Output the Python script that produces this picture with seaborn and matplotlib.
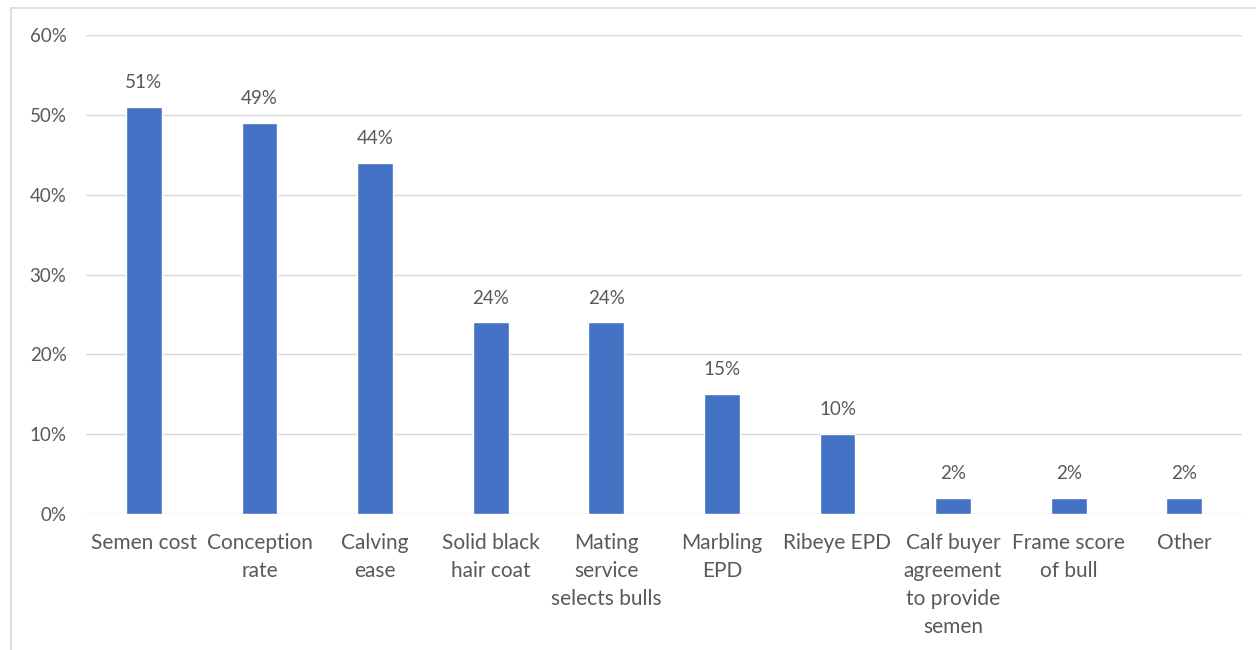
import matplotlib
matplotlib.use("Agg")
import matplotlib.pyplot as plt
from matplotlib.patches import Rectangle
from matplotlib.ticker import MultipleLocator, FuncFormatter
import seaborn as sns
import pandas as pd

categories = [
    "Semen cost", "Conception\nrate", "Calving\nease", "Solid black\nhair coat",
    "Mating\nservice\nselects bulls", "Marbling\nEPD", "Ribeye EPD",
    "Calf buyer\nagreement\nto provide\nsemen", "Frame score\nof bull", "Other",
]
values = [51, 49, 44, 24, 24, 15, 10, 2, 2, 2]

df = pd.DataFrame({"factor": categories, "pct": values})

sns.set_theme(style="white")
plt.rcParams["font.family"] = ["Lato", "DejaVu Sans"]

text_color = "#595959"
grid_color = "#d9d9d9"
bar_color = "#4472c4"

fig = plt.figure(figsize=(12.56, 6.5), dpi=100)
ax = fig.add_axes([0.0685, 0.2092, 0.9204, 0.7368])

sns.barplot(data=df, x="factor", y="pct", color=bar_color, width=0.31,
            saturation=1, ax=ax, zorder=3)

ax.set_ylim(0, 60)
ax.set_xlim(-0.5, len(categories) - 0.5)
ax.yaxis.set_major_locator(MultipleLocator(10))
ax.yaxis.set_major_formatter(FuncFormatter(lambda v, _: f"{v:.0f}%"))
ax.grid(axis="y", color=grid_color, linewidth=1, zorder=0)
ax.set_axisbelow(True)
for s in ax.spines.values():
    s.set_visible(False)
ax.set_xlabel("")
ax.set_ylabel("")
ax.tick_params(axis="y", length=0, pad=14, labelsize=13.5, labelcolor=text_color)
ax.tick_params(axis="x", length=0, pad=13.5, labelsize=15, labelcolor=text_color)
for lbl in ax.get_xticklabels():
    lbl.set_linespacing(1.5)

for i, v in enumerate(values):
    ax.annotate(f"{v}%", (i, v), xytext=(0, 17.5), textcoords="offset points",
                ha="center", va="center", fontsize=13.5, color=text_color)

# Chart frame: light border along the top and left edges
fig.patches.append(Rectangle((11 / 1256, -0.1), 1.2, 1 - 8 / 650 + 0.1,
                             transform=fig.transFigure, fill=False,
                             edgecolor=grid_color, linewidth=1.2))

fig.savefig("out.png", dpi=100)
